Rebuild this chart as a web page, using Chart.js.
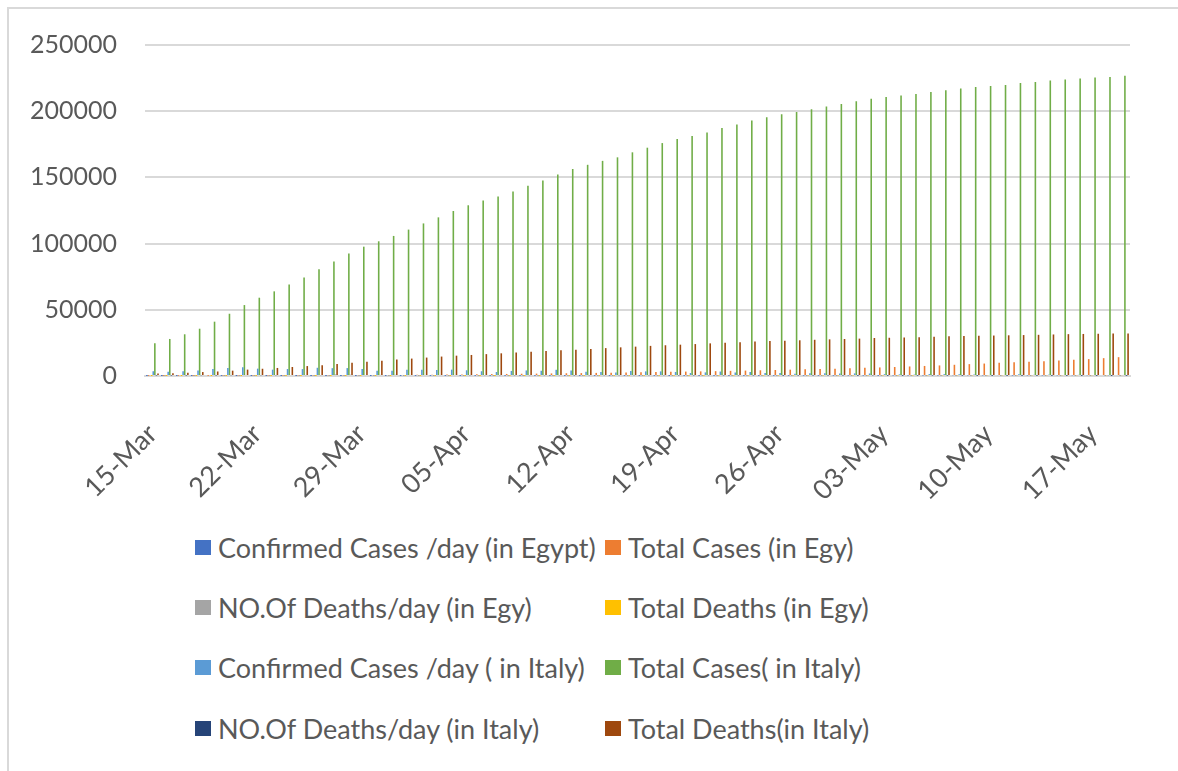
<!DOCTYPE html>
<html>
<head>
<meta charset="utf-8">
<script src="https://cdn.jsdelivr.net/npm/chart.js@4.4.1/dist/chart.umd.min.js"></script>
<style>
  html, body { margin: 0; padding: 0; background: #fff; overflow: hidden; }
  body { font-family: Lato, "Open Sans", sans-serif; }
  #page { position: relative; width: 1178px; height: 771px; overflow: hidden; }
  #frame { position: absolute; left: 7px; top: 7px; width: 1171px; height: 764px;
           border-top: 2px solid #d9d9d9; border-left: 2px solid #d9d9d9; box-sizing: border-box; }
  #wrap { position: absolute; left: 0; top: 0; width: 1178px; height: 520px; }
  .item { position: absolute; height: 32px; line-height: 32px; font-size: 27px; color: #595959; white-space: nowrap; }
  .item span.box { position: absolute; left: 0; top: 8px; width: 16px; height: 15px; }
  .item span.txt { position: absolute; left: 23px; top: 0; }
</style>
</head>
<body>
<div id="page">
<div id="frame"></div>
<div id="wrap"><canvas id="chart"></canvas></div>
<div id="legend"></div>
</div>
<script>
// categories, 15-Mar .. 19-May
const categories = [
  '15-Mar','16-Mar','17-Mar','18-Mar','19-Mar','20-Mar','21-Mar','22-Mar','23-Mar','24-Mar','25-Mar','26-Mar','27-Mar','28-Mar','29-Mar','30-Mar','31-Mar',
  '01-Apr','02-Apr','03-Apr','04-Apr','05-Apr','06-Apr','07-Apr','08-Apr','09-Apr','10-Apr','11-Apr','12-Apr','13-Apr','14-Apr','15-Apr',
  '16-Apr','17-Apr','18-Apr','19-Apr','20-Apr','21-Apr','22-Apr','23-Apr','24-Apr','25-Apr','26-Apr','27-Apr','28-Apr','29-Apr','30-Apr',
  '01-May','02-May','03-May','04-May','05-May','06-May','07-May','08-May','09-May','10-May','11-May','12-May','13-May','14-May','15-May',
  '16-May','17-May','18-May','19-May'
];
const tickLabels = ['15-Mar','22-Mar','29-Mar','05-Apr','12-Apr','19-Apr','26-Apr','03-May','10-May','17-May'];
const yTicks = [0, 50000, 100000, 150000, 200000, 250000];

const egyDailyCases = [
  17,16,40,30,0,89,9,33,39,36,54,39,41,40,33,47,54,
  69,86,120,85,103,149,128,110,139,95,145,126,125,160,155,168,171,188,112,189,157,169,232,201,227,215,248,260,226,269,
  358,298,272,348,388,387,393,495,488,436,693,338,398,399,491,510,535,720,745
];
const egyTotalCases = [
  110,126,166,196,196,285,294,327,366,402,456,495,536,576,609,656,710,
  779,865,985,1070,1173,1322,1450,1560,1699,1794,1939,2065,2190,2350,2505,2673,2844,3032,3144,3333,3490,3659,3891,4092,4319,4534,4782,5042,5268,5537,
  5895,6193,6465,6813,7201,7588,7981,8476,8964,9400,10093,10431,10829,11228,11719,12229,12764,13484,14229
];
const egyDailyDeaths = [
  0,2,0,2,0,2,2,4,5,1,1,3,6,6,4,1,5,
  6,6,8,5,7,7,9,9,15,17,11,13,5,14,5,13,9,19,15,11,14,12,11,7,13,10,20,22,21,12,
  14,9,14,7,16,17,13,21,11,11,8,11,12,15,21,20,18,15,14
];
const egyTotalDeaths = [
  2,4,4,6,6,8,10,14,19,20,21,24,30,36,40,41,46,
  52,58,66,71,78,85,94,103,118,135,146,159,164,178,183,196,205,224,239,250,264,276,287,294,307,317,337,359,380,392,
  406,415,429,436,452,469,482,503,514,525,533,544,556,571,592,612,630,645,659
];
const itaDailyCases = [
  3590,3233,3526,4207,5322,5986,6557,5560,4789,5249,5210,6203,5909,5974,5217,4050,4053,
  4782,4668,4585,4805,4316,3599,3039,3836,4204,3951,4694,4092,3153,2972,2667,3786,3493,3491,3047,2256,2729,3370,2646,3021,2357,2324,1739,2091,2086,1872,
  1965,1900,1389,1221,1075,1444,1401,1327,1083,802,744,1402,888,992,789,875,675,451,813
];
const itaTotalCases = [
  24747,27980,31506,35713,41035,47021,53578,59138,63927,69176,74386,80589,86498,92472,97689,101739,105792,
  110574,115242,119827,124632,128948,132547,135586,139422,143626,147577,152271,156363,159516,162488,165155,168941,172434,175925,178972,181228,183957,187327,189973,192994,195351,197675,199414,201505,203591,205463,
  207428,209328,210717,211938,213013,214457,215858,217185,218268,219070,219814,221216,222104,223096,223885,224760,225435,225886,226699
];
const itaDailyDeaths = [
  368,349,345,475,427,627,793,651,601,743,683,662,969,889,756,812,837,
  727,760,766,681,525,636,604,542,610,570,619,431,566,602,578,525,575,482,433,454,534,437,464,420,415,260,333,382,323,285,
  269,474,174,195,236,369,274,243,194,165,179,172,195,262,242,153,145,99,162
];
const itaTotalDeaths = [
  1809,2158,2503,2978,3405,4032,4825,5476,6077,6820,7503,8165,9134,10023,10779,11591,12428,
  13155,13915,14681,15362,15887,16523,17127,17669,18279,18849,19468,19899,20465,21067,21645,22170,22745,23227,23660,24114,24648,25085,25549,25969,26384,26644,26977,27359,27682,27967,
  28236,28710,28884,29079,29315,29684,29958,30201,30395,30560,30739,30911,31106,31368,31610,31763,31908,32007,32169
];

const seriesNames = [
  'Confirmed Cases /day (in Egypt)', 'Total Cases (in Egy)',
  'NO.Of Deaths/day (in Egy)', 'Total Deaths (in Egy)',
  'Confirmed Cases /day ( in Italy)', 'Total Cases( in Italy)',
  'NO.Of Deaths/day (in Italy)', 'Total Deaths(in Italy)'
];
const seriesData = [egyDailyCases, egyTotalCases, egyDailyDeaths, egyTotalDeaths,
                    itaDailyCases, itaTotalCases, itaDailyDeaths, itaTotalDeaths];
const seriesColors = ['#4472C4', '#ED7D31', '#A5A5A5', '#FFC000', '#5B9BD5', '#70AD47', '#264478', '#9E480E'];

const textColor = '#595959';
const gridColor = '#d9d9d9';
const fontFamily = 'Lato, "Open Sans", sans-serif';

new Chart(document.getElementById('chart'), {
  type: 'bar',
  data: {
    labels: categories,
    datasets: seriesNames.map((name, i) => ({
      label: name,
      data: seriesData[i],
      backgroundColor: seriesColors[i],
      borderWidth: 0,
      categoryPercentage: 0.85,
      barPercentage: 1
    }))
  },
  options: {
    responsive: true,
    maintainAspectRatio: false,
    animation: false,
    layout: { padding: { left: 0, right: 48, top: 45, bottom: 0 } },
    plugins: { legend: { display: false }, tooltip: { enabled: false } },
    scales: {
      x: {
        grid: { display: false, drawTicks: false },
        border: { color: gridColor, width: 2 },
        ticks: {
          autoSkip: false,
          maxRotation: 45,
          minRotation: 45,
          padding: 42,
          color: textColor,
          font: { family: fontFamily, size: 27 },
          callback: function(v, i) {
            const lab = categories[i];
            return tickLabels.includes(lab) ? lab : null;
          }
        },
        afterFit: function(scale) { scale.height = 144; }
      },
      y: {
        min: 0,
        max: yTicks[yTicks.length - 1],
        grid: { color: gridColor, lineWidth: 2, drawTicks: false },
        border: { display: false },
        ticks: {
          stepSize: 50000,
          padding: 28,
          color: textColor,
          font: { family: fontFamily, size: 25 },
          callback: v => String(v)
        },
        afterFit: function(scale) { scale.width = 145; }
      }
    }
  }
});

// legend, two columns like the original
const legend = document.getElementById('legend');
const colX = [195, 605];
const rowY = [548, 608, 668, 729];
seriesNames.forEach((name, i) => {
  const d = document.createElement('div');
  d.className = 'item';
  d.style.left = colX[i % 2] + 'px';
  d.style.top = (rowY[Math.floor(i / 2)] - 16) + 'px';
  d.innerHTML = '<span class="box" style="background:' + seriesColors[i] + '"></span><span class="txt"></span>';
  d.querySelector('.txt').textContent = name;
  legend.appendChild(d);
});
</script>
</body>
</html>
